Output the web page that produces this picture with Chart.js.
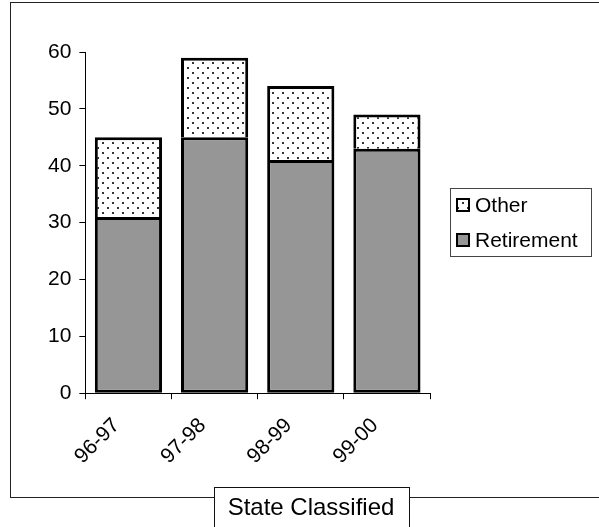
<!DOCTYPE html>
<html>
<head>
<meta charset="utf-8">
<script src="https://cdn.jsdelivr.net/npm/chart.js@4.4.0/dist/chart.umd.min.js"></script>
<style>
  html, body { margin: 0; padding: 0; background: #fff; }
  #wrap { width: 599px; height: 527px; position: relative; }
</style>
</head>
<body>
<div id="wrap"><canvas id="chart"></canvas></div>
<script>
const years = ['96-97', '97-98', '98-99', '99-00'];
const retirement = [31, 45, 41, 43];
const other = [14, 14, 13, 6];
const yMin = 0;
const yMax = 60;
const yStep = 10;
const chartTitle = 'State Classified';

const fontFam = '"Liberation Sans", Arial, sans-serif';

// dotted fill for the "Other" part
function dotPattern() {
	const c = document.createElement('canvas');
	c.width = 10; c.height = 10;
	const g = c.getContext('2d');
	g.fillStyle = '#fff';
	g.fillRect(0, 0, 10, 10);
	g.fillStyle = '#333';
	g.fillRect(2, 2, 2, 2);
	g.fillRect(7, 7, 2, 2);
	return g.createPattern(c, 'repeat');
}

const framePlugin = {
	id: 'frame',
	afterDraw(chart) {
		const ctx = chart.ctx;
		ctx.save();
		ctx.strokeStyle = '#222';
		ctx.lineWidth = 1;
		ctx.strokeRect(10.5, 2.5, 620, 495);

		// boxed title straddling the bottom of the frame
		ctx.font = '24px ' + fontFam;
		const tw = ctx.measureText(chartTitle).width;
		const cx = 311;
		const x0 = Math.round(cx - tw / 2 - 14) + 0.5;
		ctx.fillStyle = '#fff';
		ctx.fillRect(x0, 487.5, tw + 28, 50);
		ctx.strokeStyle = '#111';
		ctx.strokeRect(x0, 487.5, Math.round(tw + 28), 50);
		ctx.fillStyle = '#000';
		ctx.textAlign = 'center';
		ctx.textBaseline = 'middle';
		ctx.fillText(chartTitle, cx, 508);

		// legend box on the right, "Other" on top
		ctx.textAlign = 'left';
		ctx.strokeStyle = '#444';
		ctx.strokeRect(450.5, 188.5, 141, 68);
		ctx.font = '21px ' + fontFam;
		const items = chart.data.datasets.slice().reverse();
		items.forEach((ds, i) => {
			const y = 205 + i * 35;
			ctx.fillStyle = ds.backgroundColor;
			ctx.fillRect(457, y - 6, 12, 12);
			ctx.strokeStyle = '#000';
			ctx.lineWidth = 2;
			ctx.strokeRect(457, y - 6, 12, 12);
			ctx.fillStyle = '#000';
			ctx.fillText(ds.label, 475, y + 1);
		});
		ctx.restore();
	}
};

new Chart(document.getElementById('chart'), {
	type: 'bar',
	data: {
		labels: years,
		datasets: [
			{
				label: 'Retirement',
				data: retirement,
				backgroundColor: '#969696',
				borderColor: '#000',
				borderWidth: 3,
				borderSkipped: false
			},
			{
				label: 'Other',
				data: other,
				backgroundColor: dotPattern(),
				borderColor: '#000',
				borderWidth: 3,
				borderSkipped: 'bottom'
			}
		]
	},
	options: {
		responsive: true,
		maintainAspectRatio: false,
		animation: false,
		layout: { padding: { left: 40, right: 169, top: 52, bottom: 44 } },
		datasets: { bar: { categoryPercentage: 1, barPercentage: 0.78 } },
		plugins: {
			legend: { display: false },
			title: { display: false },
			tooltip: { enabled: false }
		},
		scales: {
			x: {
				stacked: true,
				grid: { display: true, drawOnChartArea: false, offset: true, tickLength: 6, color: '#000' },
				border: { display: true, color: '#000', width: 1 },
				ticks: {
					color: '#000',
					maxRotation: 45,
					minRotation: 45,
					autoSkip: false,
					padding: 14,
					labelOffset: -12,
					font: { family: fontFam, size: 21 }
				}
			},
			y: {
				stacked: true,
				min: yMin,
				max: yMax,
				grid: { display: true, drawOnChartArea: false, tickLength: 6, color: '#000' },
				border: { display: true, color: '#000', width: 1 },
				ticks: {
					stepSize: yStep,
					color: '#000',
					padding: 8,
					font: { family: fontFam, size: 21 }
				}
			}
		}
	},
	plugins: [framePlugin]
});
</script>
</body>
</html>
